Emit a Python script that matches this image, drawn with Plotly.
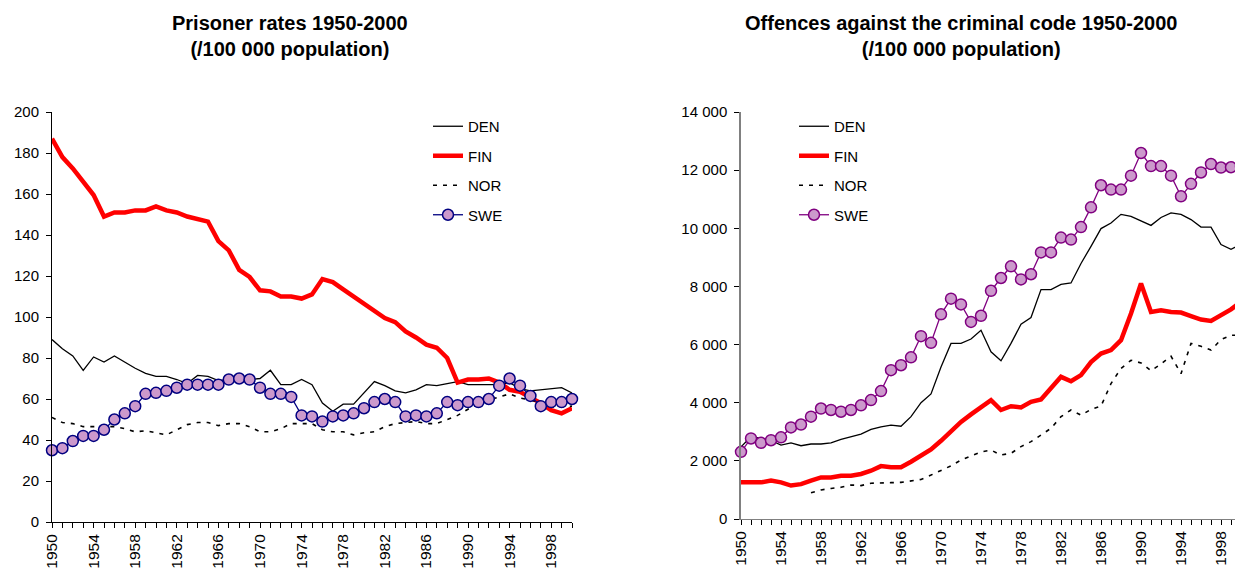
import plotly.graph_objects as go

years = list(range(1950, 2001))

# Prisoner rates (/100 000 population)
pr_den = [89, 84.5, 81, 74, 80.5, 78, 81, 78, 75, 72.5, 71, 71, 69.5, 67.5, 71.5, 71, 69, 69.5, 70, 69.5,
          70, 74, 67, 67, 69.5, 67, 58, 54, 57.5, 57.5, 63, 68.5, 66.5, 64, 63, 64.5, 67, 66.5, 67.5, 68.5,
          67, 67, 67, 67, 68, 65, 64, 64.5, 64.7, 65.5, 63]
pr_fin = [187, 178, 172.5, 166, 159.5, 149, 151, 151, 152, 152, 154, 152, 151, 149, 147.5, 146.5, 137, 132.5, 123, 119.5,
          113, 112.5, 110, 110, 109, 111, 118.5, 117, 113.5, 110, 106, 102.5, 99.5, 97.5, 93, 90, 86.5, 85, 80, 68,
          69.5, 69.5, 70, 68, 64.5, 63.5, 61, 58, 54.5, 53, 55.5]
pr_nor = [51, 48.5, 48, 46.5, 46.5, 46.5, 46.5, 45.5, 44, 44.5, 43.5, 42.5, 45, 47.5, 48.5, 48.5, 47, 48, 48, 46.5,
          44, 44, 45.5, 48, 48, 48, 45, 44, 44, 42.5, 43.5, 44, 46.5, 48, 48.5, 49, 48, 48, 50, 52,
          55, 57.5, 59.5, 61, 62.5, 60.5, 59.5, 58, 56, 56, 56.5]
pr_swe = [35, 36, 39.5, 42, 42, 45, 50, 53, 56.5, 62.5, 63, 64, 65.5, 67, 67, 67, 67, 69.5, 70, 69.5,
          65.5, 62.5, 62.5, 61, 52, 51.5, 49, 51.5, 52, 53, 55.5, 58.5, 60, 58.5, 51.5, 52, 51.5, 53, 58.5, 57,
          58.5, 58.5, 60, 66.5, 70, 66.5, 61.5, 56.5, 58.5, 58.5, 60]

# Offences against the criminal code (/100 000 population)
of_den = [2480, 2830, 2770, 2700, 2540, 2620, 2520, 2580, 2580, 2620, 2740, 2830, 2920, 3080, 3170, 3230, 3190, 3520, 4000, 4300,
          5230, 6040, 6040, 6190, 6490, 5750, 5440, 6040, 6700, 6930, 7890, 7890, 8070, 8120, 8790, 9380, 9990, 10180, 10480, 10410,
          10250, 10100, 10370, 10530, 10480, 10300, 10040, 10040, 9440, 9280, 9450]
of_fin = [1260, 1260, 1260, 1320, 1260, 1150, 1200, 1320, 1430, 1430, 1490, 1490, 1550, 1660, 1820, 1780, 1780, 1970, 2170, 2390,
          2690, 3040, 3340, 3600, 3840, 4090, 3750, 3880, 3840, 4030, 4110, 4490, 4890, 4740, 4950, 5400, 5690, 5810, 6150, 7070,
          8100, 7120, 7180, 7120, 7100, 6980, 6860, 6810, 7010, 7210, 7470]
of_nor = [None, None, None, None, None, None, None, 900, 1000, 1050, 1090, 1170, 1150, 1230, 1250, 1250, 1260, 1320, 1360, 1510,
          1660, 1830, 2030, 2170, 2310, 2370, 2200, 2260, 2490, 2660, 2890, 3120, 3520, 3750, 3570, 3770, 3880, 4660, 5180, 5460,
          5370, 5100, 5330, 5600, 5000, 6040, 5940, 5810, 6170, 6320, 6320]
of_swe = [2310, 2770, 2620, 2710, 2810, 3150, 3250, 3520, 3800, 3750, 3690, 3750, 3910, 4090, 4400, 5120, 5290, 5560, 6290, 6060,
          7040, 7580, 7380, 6780, 6990, 7850, 8290, 8690, 8240, 8420, 9170, 9170, 9680, 9610, 10040, 10720, 11480, 11330, 11330, 11810,
          12590, 12140, 12140, 11810, 11100, 11530, 11920, 12210, 12090, 12100, 12140]

tick_text = [str(y) if (y - 1950) % 4 == 0 else "" for y in years]

FONT = "Liberation Sans, Arial, sans-serif"
LAV = "#CC99CC"

fig = go.Figure()

def add_set(den, fin, nor, swe, xa, ya, legend, swe_line, prefix):
    fig.add_trace(go.Scatter(x=years, y=den, name="DEN", mode="lines", xaxis=xa, yaxis=ya, legend=legend,
                             legendgroup=prefix + "den", line=dict(color="black", width=1.3)))
    fig.add_trace(go.Scatter(x=years, y=fin, name="FIN", mode="lines", xaxis=xa, yaxis=ya, legend=legend,
                             legendgroup=prefix + "fin", line=dict(color="#FF0000", width=4.5)))
    fig.add_trace(go.Scatter(x=years, y=nor, name="NOR", mode="lines", xaxis=xa, yaxis=ya, legend=legend,
                             legendgroup=prefix + "nor", line=dict(color="black", width=1.6, dash="4px,6px")))
    fig.add_trace(go.Scatter(x=years, y=swe, name="SWE", mode="lines+markers", xaxis=xa, yaxis=ya, legend=legend,
                             legendgroup=prefix + "swe", cliponaxis=False,
                             line=dict(color=swe_line, width=1.3),
                             marker=dict(symbol="circle", size=11, color=LAV,
                                         line=dict(color=swe_line, width=1.5))))

add_set(pr_den, pr_fin, pr_nor, pr_swe, "x", "y", "legend", "#000080", "l")
add_set(of_den, of_fin, of_nor, of_swe, "x2", "y2", "legend2", "#800080", "r")

OFF = 8  # page body margin
W, H = 1243 - OFF, 574 - OFF
ml, mr, mt, mb = 52 - OFF, 2, 112 - OFF, 574 - 522
pw = W - ml - mr
ph = H - mt - mb

def px(xp):
    return (xp - OFF - ml) / pw

def py(yp):
    return 1 - (yp - OFF - mt) / ph

x1dom = [0, px(572)]
x2dom = [px(741), 1]

common_x = dict(range=[1950, 2000], tickmode="array", tickvals=years, ticktext=tick_text,
                ticks="outside", ticklen=5, tickwidth=1, tickcolor="black", tickangle=-90,
                showgrid=False, zeroline=False, showline=True, linewidth=1,
                tickfont=dict(family=FONT, size=15.5, color="black"), automargin=False)

fig.update_layout(
    width=W, height=H,
    margin=dict(l=ml, r=mr, t=mt, b=mb),
    plot_bgcolor="white", paper_bgcolor="white",
    separators=". ",
    font=dict(family=FONT, size=15, color="black"),
    xaxis=dict(domain=x1dom, anchor="y", linecolor="black", **common_x),
    xaxis2=dict(domain=x2dom, anchor="y2", linecolor="#808080", **common_x),
    xaxis3=dict(domain=x1dom, anchor="y", overlaying="x", range=[1950, 2000], tickmode="array", tickvals=years,
                ticks="inside", ticklen=5, tickcolor="black", showticklabels=False, showline=False,
                showgrid=False, zeroline=False),
    xaxis4=dict(domain=x2dom, anchor="y2", overlaying="x2", range=[1950, 2000], tickmode="array", tickvals=years,
                ticks="inside", ticklen=5, tickcolor="black", showticklabels=False, showline=False,
                showgrid=False, zeroline=False),
    yaxis=dict(domain=[0, 1], anchor="x", range=[0, 200], dtick=20, tick0=0, ticks="outside", ticklen=5,
               tickcolor="black", showline=True, linecolor="black", linewidth=1, showgrid=False, zeroline=False,
               tickfont=dict(family=FONT, size=15, color="black"), ticklabelstandoff=4, automargin=False),
    yaxis2=dict(domain=[1 - (519 - OFF - mt) / ph, 1], anchor="x2", range=[0, 14000], dtick=2000, tick0=0,
                tickformat=",d", ticks="outside", ticklen=5, tickcolor="black", showline=True,
                linecolor="#808080", linewidth=1.5, showgrid=False, zeroline=False,
                tickfont=dict(family=FONT, size=15, color="black"), ticklabelstandoff=4, automargin=False),
    legend=dict(x=px(428), y=py(110), xanchor="left", yanchor="top", bgcolor="rgba(0,0,0,0)",
                font=dict(family=FONT, size=15, color="black"), tracegroupgap=7, traceorder="grouped"),
    legend2=dict(x=px(794), y=py(110), xanchor="left", yanchor="top", bgcolor="rgba(0,0,0,0)",
                 font=dict(family=FONT, size=15, color="black"), tracegroupgap=7, traceorder="grouped"),
    showlegend=True,
)

fig.add_annotation(text="<b>Prisoner rates 1950-2000<br>(/100 000 population)</b>",
                   xref="paper", yref="paper", x=px(290), y=py(10), xanchor="center", yanchor="top",
                   showarrow=False, font=dict(family=FONT, size=20, color="black"))
fig.add_annotation(text="<b>Offences against the criminal code 1950-2000<br>(/100 000 population)</b>",
                   xref="paper", yref="paper", x=px(961), y=py(10), xanchor="center", yanchor="top",
                   showarrow=False, font=dict(family=FONT, size=20, color="black"))

fig.write_html("out.html")
